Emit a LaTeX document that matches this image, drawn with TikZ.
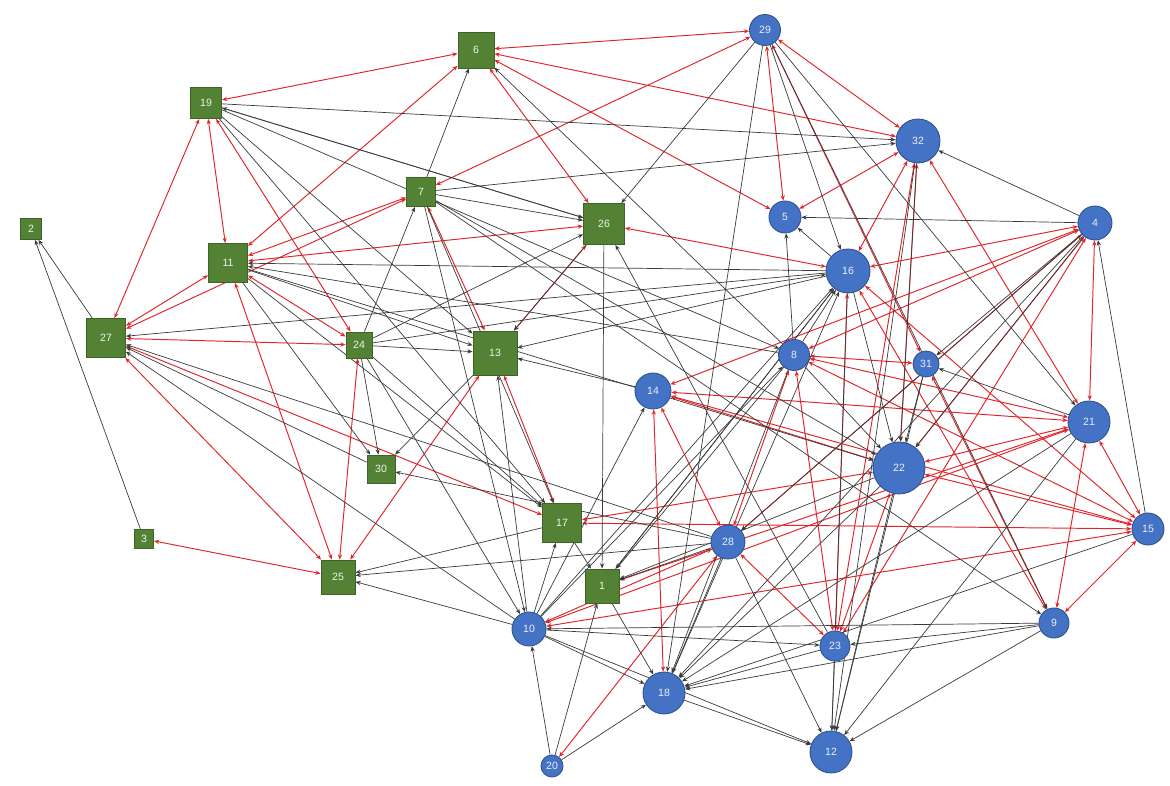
\documentclass[tikz,border=0pt]{standalone}
\usepackage{fontspec}
\setmainfont{Liberation Sans}
\usetikzlibrary{arrows.meta, backgrounds}
\definecolor{NodeGreen}{HTML}{548235}
\definecolor{NodeGreenLine}{HTML}{3E6328}
\definecolor{NodeBlue}{HTML}{4472C4}
\definecolor{NodeBlueLine}{HTML}{2F528F}
\definecolor{EdgeRed}{HTML}{E0262B}
\definecolor{EdgeGray}{HTML}{3A3A3A}

\begin{document}
\begin{tikzpicture}[
    x=0.02cm, y=-0.02cm,
    % Nodos cuadrados (verdes)
    sqnode/.style={
            rectangle,
            fill=NodeGreen,
            draw=NodeGreenLine,
            line width=0.5pt,
            minimum size=#1*0.02cm,
            inner sep=0pt,
            font=\fontsize{6}{7}\selectfont,
            text=white!90!NodeGreen
        },
    % Nodos circulares (azules)
    circnode/.style={
            circle,
            fill=NodeBlue,
            draw=NodeBlueLine,
            line width=0.5pt,
            minimum size=#1*0.02cm,
            inner sep=0pt,
            font=\fontsize{6}{7}\selectfont,
            text=white!90!NodeBlue
        },
    % Aristas
    redarrow/.style={
    {Stealth[length=3pt,width=2.4pt]}-{Stealth[length=3pt,width=2.4pt]},
    draw=EdgeRed,
    line width=0.55pt
    },
    grayarrow/.style={
    -{Stealth[length=3pt,width=2.4pt]},
    draw=EdgeGray,
    line width=0.4pt
    }
    ]

    \path[use as bounding box] (0,0) rectangle (1170,786);

    % ========== NODOS CUADRADOS ==========
    \node[sqnode=34] (n1) at (602,586) {1};
    \node[sqnode=21] (n2) at (31,229) {2};
    \node[sqnode=19] (n3) at (144,539) {3};
    \node[sqnode=36] (n6) at (476,50) {6};
    \node[sqnode=29] (n7) at (421,192) {7};
    \node[sqnode=39] (n11) at (228,263) {11};
    \node[sqnode=44] (n13) at (495,353) {13};
    \node[sqnode=39] (n17) at (562,523) {17};
    \node[sqnode=31] (n19) at (206,103) {19};
    \node[sqnode=26] (n24) at (359,345) {24};
    \node[sqnode=34] (n25) at (338,577) {25};
    \node[sqnode=41] (n26) at (604,224) {26};
    \node[sqnode=39] (n27) at (106,338) {27};
    \node[sqnode=28] (n30) at (381,469) {30};

    % ========== NODOS CIRCULARES ==========
    \node[circnode=34] (n4) at (1095,223) {4};
    \node[circnode=32] (n5) at (785,217) {5};
    \node[circnode=31] (n8) at (794,355) {8};
    \node[circnode=30] (n9) at (1054,623) {9};
    \node[circnode=34] (n10) at (529,629) {10};
    \node[circnode=42] (n12) at (831,752) {12};
    \node[circnode=36] (n14) at (653,391) {14};
    \node[circnode=32] (n15) at (1148,529) {15};
    \node[circnode=44] (n16) at (848,271) {16};
    \node[circnode=42] (n18) at (664,693) {18};
    \node[circnode=22] (n20) at (552,766) {20};
    \node[circnode=42] (n21) at (1089,422) {21};
    \node[circnode=52] (n22) at (899,468) {22};
    \node[circnode=30] (n23) at (835,646) {23};
    \node[circnode=34] (n28) at (728,542) {28};
    \node[circnode=31] (n29) at (765,30) {29};
    \node[circnode=26] (n31) at (926,364) {31};
    \node[circnode=44] (n32) at (918,141) {32};

    \begin{scope}[on background layer]
        % ========== ARISTAS ROJAS (dobles) ==========
        \foreach \a/\b in {6/19, 6/11, 6/29, 6/32, 6/5, 6/26,
                7/29, 19/27, 19/11, 19/24,
                11/27, 11/7, 27/7, 11/26, 27/24, 11/24,
                27/25, 11/25, 24/25, 13/25, 3/25, 27/17,
                7/13, 13/17, 26/13, 26/16,
                29/5, 29/31, 29/32, 32/5, 32/16, 32/22, 32/23, 32/21,
                4/16, 4/8, 4/14, 4/22, 4/28, 4/23, 4/21,
                8/31, 8/21, 8/15, 8/28, 8/23,
                14/22, 14/21, 14/15, 14/28, 14/18,
                16/15, 16/23, 16/9,
                22/17, 17/15, 22/23, 22/21, 22/15,
                21/9, 21/15, 15/9, 15/10, 21/10,
                28/23, 28/10, 20/28, 31/9, 1/21}
        \draw[redarrow] (n\a) -- (n\b);

        % ========== ARISTAS GRISES ==========
        \foreach \a/\b in {27/2, 3/2, 7/6, 8/6, 29/26, 29/18, 29/16, 29/21, 29/9,
                4/32, 4/5, 15/4,
                19/32, 26/19, 19/26, 19/13, 19/17, 19/8,
                7/32, 24/7, 7/26, 7/17, 7/10, 7/22, 7/9,
                24/26, 24/13, 24/30, 24/10, 24/17, 24/16,
                11/13, 11/30, 11/17, 11/22, 16/11, 8/11,
                16/27, 28/27, 30/27, 10/27,
                13/30, 16/13, 14/13, 26/1, 26/13, 16/5, 8/5,
                17/25, 28/25, 10/25,
                20/10, 20/18, 20/1,
                10/18, 10/23, 10/12, 10/14, 10/8, 10/16, 10/13, 10/17,
                1/18, 28/1, 8/1, 16/1, 22/1, 17/1,
                28/12, 28/18, 23/12, 22/12, 16/12, 9/12, 21/12, 31/12, 18/12, 32/12,
                9/18, 9/10, 9/23, 21/18, 22/18, 8/18, 15/18, 23/18, 4/18,
                31/22, 32/22, 16/22, 8/22, 21/31, 4/31, 4/22, 4/28,
                23/26, 8/16, 1/16, 18/16, 28/30}
        \draw[grayarrow] (n\a) -- (n\b);
    \end{scope}

\end{tikzpicture}
\end{document}
